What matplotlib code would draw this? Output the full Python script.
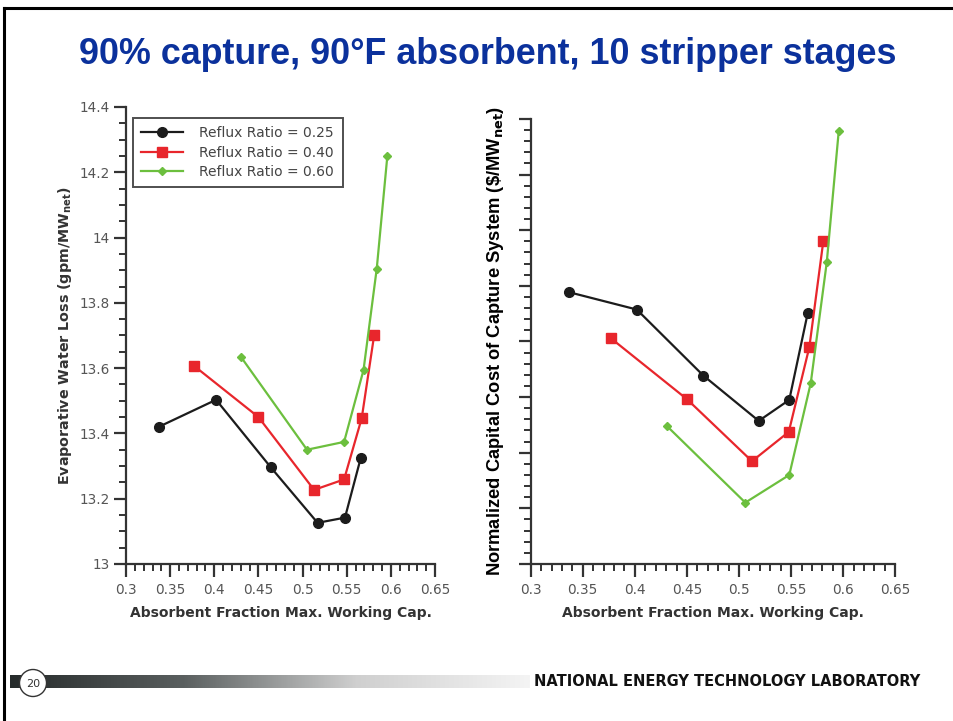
import numpy as np
import matplotlib
matplotlib.use("Agg")
import matplotlib.pyplot as plt
from matplotlib.patches import Ellipse
from matplotlib.ticker import MultipleLocator, NullFormatter

# Left panel: evaporative water loss (gpm/MW_net)
x_025 = [0.337, 0.402, 0.464, 0.517, 0.548, 0.566]
y_025 = [13.42, 13.503, 13.296, 13.126, 13.142, 13.326]
x_040 = [0.377, 0.450, 0.513, 0.547, 0.567, 0.581]
y_040 = [13.607, 13.45, 13.227, 13.259, 13.447, 13.70]
x_060 = [0.430, 0.505, 0.547, 0.569, 0.584, 0.596]
y_060 = [13.635, 13.35, 13.374, 13.594, 13.905, 14.25]

# Right panel: normalized capital cost (unlabelled scale)
c_x_025 = [0.3365, 0.4018, 0.4657, 0.5189, 0.5482, 0.5659]
c_y_025 = [4.887, 4.574, 3.387, 2.572, 2.95, 4.509]
c_x_040 = [0.3768, 0.450, 0.5124, 0.5477, 0.5675, 0.5809]
c_y_040 = [4.06, 2.962, 1.847, 2.374, 3.903, 5.809]
c_x_060 = [0.4306, 0.506, 0.5482, 0.5688, 0.5842, 0.5957]
c_y_060 = [2.482, 1.103, 1.60, 3.25, 5.426, 7.788]

labels = ["Reflux Ratio = 0.25", "Reflux Ratio = 0.40", "Reflux Ratio = 0.60"]
colors = ["#1c1c1c", "#e8262c", "#6cbf3e"]
markers = ["o", "s", "D"]
msizes = [7, 7.5, 4.5]

fig = plt.figure(figsize=(9.54, 7.21), dpi=100)

# slide frame
fig.add_artist(plt.Line2D([0.0045, 1.0], [0.989, 0.989], color="black", lw=2.2))
fig.add_artist(plt.Line2D([0.0045, 0.0045], [0.0, 0.989], color="black", lw=2.2))

fig.text(0.511, 0.924, "90% capture, 90°F absorbent, 10 stripper stages",
         ha="center", va="center", fontsize=25.8, fontweight="bold",
         color="#0b319c", family="Liberation Sans")


def style_axes(ax):
    for s in ["top", "right"]:
        ax.spines[s].set_visible(False)
    for s in ["left", "bottom"]:
        ax.spines[s].set_linewidth(1.6)
        ax.spines[s].set_color("#333333")
    ax.set_xlim(0.3, 0.65)
    ax.xaxis.set_major_locator(MultipleLocator(0.05))
    ax.xaxis.set_minor_locator(MultipleLocator(0.01))
    ax.xaxis.set_major_formatter(matplotlib.ticker.FuncFormatter(
        lambda v, p: ("%.2f" % v).rstrip("0").rstrip(".")))
    ax.tick_params(which="major", direction="out", length=9, width=1.6,
                   color="#333333", labelcolor="#555555", labelsize=9.8, pad=5)
    ax.tick_params(which="minor", direction="out", length=5, width=1.4,
                   color="#333333")
    ax.set_xlabel("Absorbent Fraction Max. Working Cap.", fontsize=10,
                  fontweight="bold", color="#333333", labelpad=6)


ax1 = fig.add_axes([0.1321, 0.2178, 0.3239, 0.6338])
ax1.plot(x_025, y_025, color=colors[0], marker=markers[0], ms=msizes[0], lw=1.6, label=labels[0])
ax1.plot(x_040, y_040, color=colors[1], marker=markers[1], ms=msizes[1], lw=1.6, label=labels[1])
ax1.plot(x_060, y_060, color=colors[2], marker=markers[2], ms=msizes[2], lw=1.6, label=labels[2])
style_axes(ax1)
ax1.set_ylim(13, 14.4)
ax1.yaxis.set_major_locator(MultipleLocator(0.2))
ax1.yaxis.set_minor_locator(MultipleLocator(0.05))
ax1.yaxis.set_major_formatter(matplotlib.ticker.FuncFormatter(
    lambda v, p: ("%.1f" % v).rstrip("0").rstrip(".")))
ax1.tick_params(axis="y", which="major", pad=3)
ax1.set_ylabel("Evaporative Water Loss (gpm/MW$_{\\mathbf{net}}$)", fontsize=10.3,
               fontweight="bold", color="#333333", labelpad=4)
leg = ax1.legend(loc="upper left", bbox_to_anchor=(0.022, 0.976), borderaxespad=0,
                 fancybox=False, edgecolor="#222222", fontsize=10, handlelength=3.0,
                 borderpad=0.6, labelspacing=0.38, handletextpad=1.2)
leg.get_frame().set_linewidth(1.4)
for t in leg.get_texts():
    t.set_color("#444444")

ax2 = fig.add_axes([0.5563, 0.2178, 0.3822, 0.6172])
ax2.plot(c_x_025, c_y_025, color=colors[0], marker=markers[0], ms=msizes[0], lw=1.6)
ax2.plot(c_x_040, c_y_040, color=colors[1], marker=markers[1], ms=msizes[1], lw=1.6)
ax2.plot(c_x_060, c_y_060, color=colors[2], marker=markers[2], ms=msizes[2], lw=1.6)
style_axes(ax2)
ax2.set_ylim(0, 8)
ax2.yaxis.set_major_locator(MultipleLocator(1))
ax2.yaxis.set_minor_locator(MultipleLocator(0.2))
ax2.yaxis.set_major_formatter(NullFormatter())
ax2.set_ylabel("Normalized Capital Cost of Capture System (\\$/MW$_{\\mathbf{net}}$)",
               fontsize=13.2, fontweight="bold", color="black",
               family="Liberation Sans", labelpad=4)

# footer bar with gradient
bar = fig.add_axes([0.011, 0.046, 0.545, 0.018])
grad = np.linspace(0, 1, 256).reshape(1, -1)
bar.imshow(grad, aspect="auto", cmap=matplotlib.colors.LinearSegmentedColormap.from_list(
    "g", ["#262b2b", "#5a5f5f", "#cfcfcf", "#f4f4f4"]))
bar.axis("off")

fig.add_artist(Ellipse((33 / 954, 1 - 683 / 721), 27 / 954, 27 / 721,
                       facecolor="white", edgecolor="#333333", lw=1.0, zorder=5))
fig.text(33 / 954, 1 - 684 / 721, "20", ha="center", va="center", fontsize=8,
         color="#333333", zorder=6)
fig.text(727 / 954, 1 - 682 / 721, "NATIONAL ENERGY TECHNOLOGY LABORATORY",
         ha="center", va="center", fontsize=10.5, fontweight="bold",
         color="#111111", family="DejaVu Sans")

fig.savefig("out.png", dpi=100)
